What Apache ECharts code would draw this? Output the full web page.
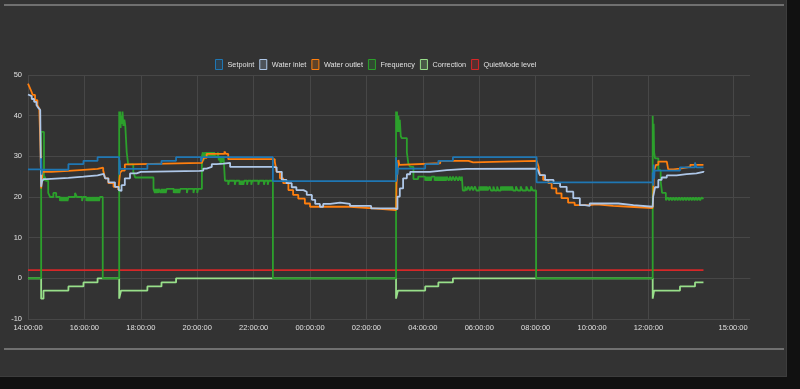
<!DOCTYPE html>
<html>
<head>
<meta charset="utf-8">
<script src="https://cdn.jsdelivr.net/npm/echarts@6/dist/echarts.min.js"></script>
<style>
  html, body { margin:0; padding:0; background:#111; width:800px; height:389px; overflow:hidden; }
  #panel { position:absolute; left:0; top:0; width:786px; height:376px; background:#333; border-right:1px solid #3d3d3d; border-bottom:1px solid #3d3d3d; }
  .hr { position:absolute; left:4px; width:780px; height:2px; background:#707070; }
  #chart { position:absolute; left:0; top:0; width:800px; height:389px; }
</style>
</head>
<body>
<div id="panel"></div>
<div class="hr" style="top:4px"></div>
<div class="hr" style="top:348px"></div>
<div id="chart"></div>
<script>
// ---- Data (time "HH:MM", value); times roll over to the next day when they go backwards ----
const seriesNames = ['Setpoint', 'Water inlet', 'Water outlet', 'Frequency', 'Correction', 'QuietMode level'];
const seriesColors = ['#1f77b4', '#aec7e8', '#ff7f0e', '#2ca02c', '#98df8a', '#d62728'];
const tickTimes = ['14:00', '16:00', '18:00', '20:00', '22:00', '00:00', '02:00', '04:00', '06:00', '08:00', '10:00', '12:00', '15:00'];
const axisRange = ['14:00', '00:00', '15:36'];   // start ... (next day) ... end

const setpoint = [
  ['14:00',26.8],['14:28',29.5],['14:29',25.5],['14:30',26.7],['15:26',28.1],['15:58',28.9],['16:28',29.8],
  ['17:14',25.5],['17:15',29.0],['17:16',26.9],['18:14',28.1],['18:44',28.9],['19:15',29.8],['20:08',28.7],['20:11',29.8],
  ['22:41',23.9],['03:03',29.8],['03:04',24.5],['03:05',28.5],['03:06',25.5],['03:07',27.0],['04:05',28.1],['04:33',28.9],['05:04',29.8],
  ['08:02',23.6],['12:09',26.0],['12:10',22.8],['12:11',28.0],['12:12',24.5],['12:13',26.5],['13:07',27.3],['13:39',28.5],['13:42',27.3],['13:57',27.3]
];

const waterInlet = [
  ['14:00',45.2],['14:04',44.8],['14:08',44.1],['14:13',43.4],['14:18',42.6],['14:22',41.9],['14:26',41.4],['14:27',30.3],['14:28',22.5],
  ['14:30',23.9],['14:33',24.4],['14:40',24.7],['15:26',25.0],['15:58',25.3],['16:28',25.7],['16:41',25.5],['16:44',24.6],['16:51',23.6],
  ['17:05',22.5],['17:13',21.7],['17:16',21.5],['17:19',22.9],['17:26',24.6],['17:37',25.8],['17:51',26.2],['18:00',26.4],['20:05',26.5],
  ['20:13',27.0],['20:20',27.4],['20:31',28.1],['20:41',28.2],['20:56',28.4],['21:10',27.4],['22:41',27.3],['22:49',26.2],['23:00',24.2],
  ['23:10',23.4],['23:21',22.4],['23:31',21.7],['23:46',21.3],['23:53',20.5],['00:04',19.3],['00:11',18.3],['00:21',17.6],['00:28',18.3],
  ['00:43',18.6],['01:04',18.3],['01:25',17.8],['02:10',17.2],['03:00',17.0],['03:04',17.0],['03:06',20.1],['03:11',22.1],['03:18',24.6],
  ['03:26',25.6],['03:33',26.2],['04:15',26.6],['04:51',26.9],['05:33',27.0],['08:02',27.1],['08:05',26.5],['08:09',25.4],['08:20',24.2],
  ['08:38',23.4],['08:52',22.5],['09:06',21.3],['09:20',19.7],['09:34',18.0],['09:45',17.8],['09:55',18.4],['10:24',18.4],['10:56',18.0],
  ['11:28',17.6],['12:09',17.4],['12:10',20.1],['12:14',22.4],['12:21',24.2],['12:28',24.8],['12:39',25.3],['13:00',25.6],['13:21',25.8],
  ['13:42',26.2],['13:57',26.4]
];

const waterOutlet = [
  ['14:00',47.9],['14:03',47.1],['14:06',46.3],['14:10',45.1],['14:15',43.8],['14:20',42.6],['14:24',41.8],['14:27',30.3],['14:28',22.1],
  ['14:31',26.2],['14:50',26.4],['15:26',26.6],['15:50',26.9],['16:28',27.2],['16:40',26.5],['16:44',24.6],['16:51',23.4],['17:02',22.5],
  ['17:12',21.7],['17:14',21.5],['17:16',26.0],['17:20',26.5],['17:26',28.0],['17:33',28.4],['20:10',28.8],['20:14',29.6],['20:20',30.6],
  ['20:58',31.2],['21:01',30.6],['21:06',29.3],['22:45',28.7],['22:49',26.2],['22:56',24.6],['23:03',23.4],['23:14',21.7],['23:24',20.5],
  ['23:35',19.6],['23:49',18.4],['00:00',17.6],['01:25',17.2],['02:14',16.8],['03:03',16.6],['03:04',23.4],['03:08',29.1],['03:10',27.9],
  ['03:11',28.3],['04:37',28.9],['05:37',28.5],['05:47',28.7],['06:51',28.9],['08:02',28.9],['08:06',27.5],['08:09',25.4],['08:16',24.2],
  ['08:27',23.4],['08:34',22.1],['08:44',20.9],['08:55',19.7],['09:09',18.6],['09:23',18.0],['09:55',18.2],['10:09',17.8],['10:45',17.6],
  ['11:20',17.3],['12:09',17.4],['12:12',26.6],['12:16',27.9],['12:21',28.7],['12:39',28.5],['12:42',26.8],['12:53',27.0],['13:07',27.4],
  ['13:29',27.9],['13:57',28.0]
];

const frequency = [
  ['14:00',0],['14:28',36],['14:34',24],['14:36',25],['14:38',24],['14:43',21],['14:47',20],['14:54',21],['15:00',20],
  ['15:08',19],['15:10',20],['15:12',19],['15:14',20],['15:15',19],['15:17',20],['15:18',19],['15:20',20],['15:21',19],['15:23',20],['15:24',19],['15:26',20],
  ['15:40',21],['15:44',20],['15:55',19],['15:57',20],
  ['16:04',19],['16:06',20],['16:07',19],['16:09',20],['16:10',19],['16:12',20],['16:13',19],['16:15',20],['16:16',19],['16:18',20],
  ['16:19',19],['16:21',20],['16:22',19],['16:24',20],['16:25',19],['16:27',20],['16:28',19],['16:30',20],['16:31',19],['16:33',20],
  ['16:39',0],
  ['17:14',41],['17:15',38],['17:16',41],['17:17',37],['17:18',40],['17:20',38],['17:21',41],['17:23',37.5],['17:25',39],['17:27',37.5],
  ['17:30',31],['17:33',28],['17:44',26.2],['17:48',24.8],
  ['18:27',22],['18:30',21],['18:31',22],['18:33',21],['18:35',22],['18:37',21],['18:38',22],['18:42',21],['18:44',22],['18:46',21],
  ['18:47',22],['18:49',21],['18:51',22],['18:53',21],['18:55',22],
  ['19:10',21],['19:12',22],['19:14',21],['19:16',22],['19:18',21],['19:20',22],['19:22',21],['19:24',22],
  ['19:38',21],['19:40',22],['19:52',21],['19:54',22],['20:00',21],['20:02',22],
  ['20:10',30],['20:12',31],['20:14',29],['20:16',31],['20:18',30],['20:20',31],['20:22',30],['20:24',31],['20:26',30],['20:28',31],
  ['20:30',30],['20:32',31],['20:34',30],['20:36',31],['20:38',30],['20:44',31],['20:46',29],['20:48',30],['20:50',28],['20:52',30],
  ['20:54',28.5],['20:56',30],
  ['20:59',24],['21:06',23],['21:08',24],['21:20',23],['21:22',24],['21:30',23],['21:32',24],['21:34',23],['21:36',24],['21:38',23],
  ['21:40',24],['21:46',23],['21:48',24],['21:55',23],['21:57',24],['22:10',23],['22:12',24],['22:22',23],['22:24',24],['22:30',23],
  ['22:32',24],
  ['22:41',0],
  ['03:03',41],['03:04',37],['03:05',41],['03:06',36],['03:08',40],['03:09',36],['03:11',39],['03:13',35],['03:15',34.5],['03:26',31],
  ['03:29',28.3],['03:33',27.4],['03:40',24.4],['03:50',25],
  ['04:05',24],['04:07',25],['04:09',24],['04:11',25],['04:13',24],['04:15',25],['04:17',24],['04:19',25],
  ['04:25',24],['04:27',25],['04:29',24],['04:31',25],['04:33',24],['04:35',25],['04:37',24],['04:39',25],['04:41',24],['04:43',25],
  ['04:45',24],['04:47',25],['04:49',24],['04:51',25],
  ['04:55',24],['04:58',25],['05:01',24],['05:04',25],['05:08',24],['05:11',25],['05:15',24],['05:18',25],['05:21',24],['05:23',25],
  ['05:25',21.6],['05:30',22.6],['05:33',21.6],['05:37',22.6],['05:40',21.6],['05:44',22.6],['05:47',21.6],['05:51',22.6],['05:54',21.6],
  ['06:00',22.6],['06:02',21.6],['06:04',22.6],['06:06',21.6],['06:08',22.6],['06:10',21.6],['06:12',22.6],['06:14',21.6],['06:16',22.6],
  ['06:18',21.6],['06:22',22.6],['06:25',21.6],['06:30',22.6],['06:33',21.6],['06:38',22.6],['06:41',21.6],
  ['06:46',22.6],['06:48',21.6],['06:50',22.6],['06:52',21.6],['06:54',22.6],['06:56',21.6],['06:58',22.6],['07:00',21.6],['07:02',22.6],
  ['07:04',21.6],['07:06',22.6],['07:08',21.6],['07:10',22.6],['07:12',21.6],
  ['07:18',22.6],['07:22',21.6],['07:28',22.6],['07:32',21.6],['07:40',22.6],['07:44',21.6],['07:50',22.6],['07:54',21.6],
  ['08:01',0],
  ['12:09',40],['12:10',33],['12:11',38],['12:12',31],['12:14',29.5],['12:21',26.6],['12:26',23.8],['12:29',21],['12:37',19.2],
  ['12:41',19.9],['12:44',19.2],['12:47',19.9],['12:50',19.2],['12:53',19.9],['12:56',19.2],['12:59',19.9],['13:02',19.2],['13:05',19.9],
  ['13:08',19.2],['13:11',19.9],['13:14',19.2],['13:17',19.9],['13:20',19.2],['13:23',19.9],['13:26',19.2],['13:29',19.9],['13:32',19.2],
  ['13:35',19.9],['13:38',19.2],['13:41',19.9],['13:44',19.2],['13:47',19.9],['13:50',19.2],['13:53',19.9],['13:57',19.5]
];

const correction = [
  ['14:00',0],['14:28',-5],['14:33',-3],['15:26',-2],['15:58',-1],['16:28',0],
  ['17:14',-5],['17:18',-3],['18:14',-2],['18:44',-1],['19:15',0],
  ['03:03',-5],['03:07',-3],['04:05',-2],['04:33',-1],['05:04',0],
  ['12:09',-5],['12:12',-3],['13:07',-2],['13:39',-1],['13:57',-1]
];

const quietMode = [['14:00',2],['13:57',2]];

// ---- helpers: convert "HH:MM" to hours elapsed since the axis start (day rollover aware) ----
function toHours(list) {
  const s = axisRange[0].split(':').map(Number);
  const start = s[0] * 60 + s[1];
  let day = 0, prev = -1;
  return list.map(function (p) {
    const hm = p[0].split(':').map(Number);
    const mins = hm[0] * 60 + hm[1];
    if (prev >= 0 && mins < prev) day++;
    prev = mins;
    return [(mins + day * 1440 - start) / 60, p[1]];
  });
}
const tickValues = toHours(tickTimes.map(function (t) { return [t, 0]; })).map(function (p) { return p[0]; });
const range = toHours(axisRange.map(function (t) { return [t, 0]; }));
function pad(n) { return (n < 10 ? '0' : '') + n; }
function hexA(hex, a) {
  const r = parseInt(hex.slice(1, 3), 16), g = parseInt(hex.slice(3, 5), 16), b = parseInt(hex.slice(5, 7), 16);
  return 'rgba(' + r + ',' + g + ',' + b + ',' + a + ')';
}
function fmtHours(v) {
  const s = axisRange[0].split(':').map(Number);
  const total = Math.round(s[0] * 60 + s[1] + v * 60);
  const m = ((total % 1440) + 1440) % 1440;
  return pad(Math.floor(m / 60)) + ':' + pad(m % 60) + ':00';
}

const dataSets = [setpoint, waterInlet, waterOutlet, frequency, correction, quietMode];
const zOrder = [8, 7, 6, 5, 4, 3];
const font = 'Liberation Sans, Arial, sans-serif';
const gridColor = '#474747';

const chart = echarts.init(document.getElementById('chart'), null, { renderer: 'canvas' });
chart.setOption({
  backgroundColor: 'transparent',
  animation: false,
  legend: {
    left: 215, top: 59, padding: 0, itemGap: 5,
    icon: 'rect', itemWidth: 7, itemHeight: 10,
    textStyle: { color: '#e0e0e0', fontSize: 7.3, fontFamily: font },
    data: seriesNames.map(function (n, i) {
      return { name: n, itemStyle: { color: hexA(seriesColors[i], 0.22), borderColor: seriesColors[i], borderWidth: 1 } };
    })
  },
  grid: { left: 28, right: 50, top: 75, bottom: 70, containLabel: false, outerBoundsMode: 'none' },
  xAxis: {
    type: 'value',
    min: range[0][0], max: range[2][0],
    axisLine: { show: true, lineStyle: { color: gridColor } },
    axisTick: { show: false, customValues: tickValues },
    splitLine: { show: true, lineStyle: { color: gridColor, width: 1 } },
    axisLabel: {
      customValues: tickValues,
      color: '#e0e0e0', fontSize: 7.5, fontFamily: font, margin: 5,
      formatter: fmtHours
    }
  },
  yAxis: {
    type: 'value', min: -10, max: 50, interval: 10,
    axisLine: { show: false }, axisTick: { show: false },
    splitLine: { show: true, lineStyle: { color: gridColor, width: 1 } },
    axisLabel: { color: '#e0e0e0', fontSize: 7.5, fontFamily: font, margin: 6 }
  },
  series: seriesNames.map(function (n, i) {
    return {
      name: n, type: 'line', step: 'end', z: zOrder[i], silent: true,
      showSymbol: false, symbol: 'none',
      lineStyle: { color: seriesColors[i], width: 1.8 },
      itemStyle: { color: seriesColors[i] },
      emphasis: { disabled: true },
      data: toHours(dataSets[i])
    };
  })
});
</script>
</body>
</html>
